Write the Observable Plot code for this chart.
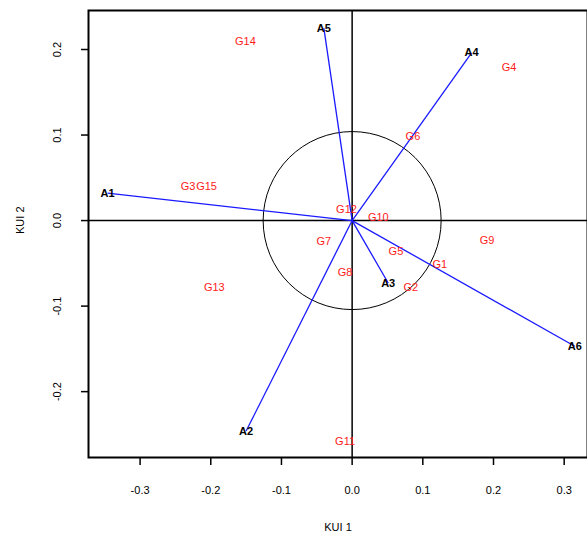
<!DOCTYPE html>
<html>
<head>
<meta charset="utf-8">
<script src="https://cdn.jsdelivr.net/npm/d3@7"></script>
<script src="https://cdn.jsdelivr.net/npm/@observablehq/plot@0.6"></script>
<style>
  html, body { margin: 0; padding: 0; background: #fff; }
  svg { display: block; }
</style>
</head>
<body>
<div id="chart"></div>
<script>
// Genotype scores (red labels)
const genoNames = ["G1","G2","G3","G4","G5","G6","G7","G8","G9","G10","G11","G12","G13","G14","G15"];
const genoX = [0.124, 0.083, -0.232, 0.222, 0.062, 0.086, -0.040, -0.010, 0.191, 0.037, -0.010, -0.008, -0.195, -0.151, -0.206];
const genoY = [-0.051, -0.078, 0.040, 0.179, -0.036, 0.098, -0.025, -0.061, -0.023, 0.004, -0.258, 0.013, -0.078, 0.209, 0.040];

// Environment vectors (blue arrows, black labels)
const envNames = ["A1","A2","A3","A4","A5","A6"];
const envX = [-0.346, -0.150, 0.051, 0.169, -0.040, 0.315];
const envY = [0.032, -0.246, -0.073, 0.196, 0.225, -0.147];

const xTicks = [-0.3, -0.2, -0.1, 0.0, 0.1, 0.2, 0.3];
const yTicks = [-0.2, -0.1, 0.0, 0.1, 0.2];
const xTitle = "KUI 1";
const yTitle = "KUI 2";
const circleRadiusPx = 89;

const geno = genoNames.map((n, i) => ({name: n, x: genoX[i], y: genoY[i]}));
const env = envNames.map((n, i) => ({name: n, x: envX[i], y: envY[i]}));

const fmt = d => d.toFixed(1);
const font = "Liberation Sans, Arial, sans-serif";

const chart = Plot.plot({
  width: 587,
  height: 541,
  marginLeft: 88,
  marginTop: 10,
  marginBottom: 84,
  marginRight: 0,
  style: {fontFamily: font, fontSize: "11px", background: "#fff"},
  x: {domain: [-0.373, 0.333], label: null},
  y: {domain: [-0.277, 0.2456], label: null},
  marks: [
    Plot.ruleX([0], {stroke: "black", strokeWidth: 1.5}),
    Plot.ruleY([0], {stroke: "black", strokeWidth: 1.5}),
    Plot.dot([{x: 0, y: 0}], {x: "x", y: "y", r: circleRadiusPx, stroke: "black", strokeWidth: 1, fill: "none"}),
    Plot.link(env, {x1: () => 0, y1: () => 0, x2: "x", y2: "y", stroke: "#1a1aff", strokeWidth: 1.3}),
    Plot.text(env, {x: "x", y: "y", text: "name", fill: "black", fontWeight: "bold", fontSize: 11}),
    Plot.text(geno, {x: "x", y: "y", text: "name", fill: "#ff1a1a", fontSize: 11}),
    Plot.frame({stroke: "black", strokeWidth: 2}),
    Plot.axisX({ticks: xTicks, tickFormat: fmt, tickSize: 8, tickPadding: 21, anchor: "bottom", fontSize: 11, label: null, strokeWidth: 1.5}),
    Plot.axisY({ticks: yTicks, tickFormat: fmt, tickSize: 7, tickPadding: 21, anchor: "left", tickRotate: -90, fontSize: 11, label: null, strokeWidth: 1.5}),
    Plot.text([xTitle], {frameAnchor: "bottom", dy: 73, text: d => d, fontSize: 11}),
    Plot.text([yTitle], {frameAnchor: "left", dx: -68, rotate: -90, text: d => d, fontSize: 11})
  ]
});
document.getElementById("chart").appendChild(chart);
</script>
</body>
</html>
